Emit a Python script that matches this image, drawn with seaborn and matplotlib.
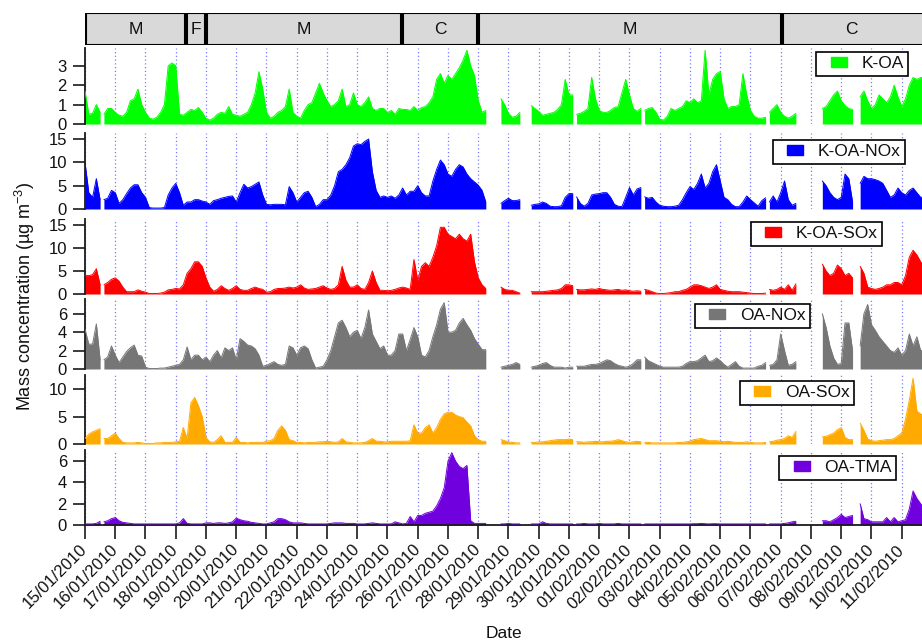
import numpy as np
import pandas as pd
import matplotlib
matplotlib.use("Agg")
import matplotlib.pyplot as plt
import seaborn as sns
from matplotlib.lines import Line2D
from matplotlib.patches import Rectangle
import matplotlib.dates as mdates

# ---------------- data ----------------
start_date = pd.Timestamp("2010-01-15")
# start (days after 15/01/2010 00:00) of each continuous measurement segment
seg_start_days = [0.0, 0.625, 13.75, 14.75, 16.25, 18.5, 22.625, 24.375, 25.625]
step_days = 0.125  # 3-hourly values

series_names = ["K-OA", "K-OA-NOx", "K-OA-SOx", "OA-NOx", "OA-SOx", "OA-TMA"]

k_oa = [
    [1.7, 0.5, 0.55, 1.0, 0.6],
    [0.5, 0.8, 0.8,
     0.6, 0.45, 0.4, 0.6, 1.2, 1.3, 1.8, 1.0,
     0.6, 0.3, 0.25, 0.35, 0.6, 1.0, 3.0, 3.15,
     3.0, 0.5, 0.45, 0.6, 0.75, 0.7, 0.85, 0.6,
     0.3, 0.2, 0.3, 0.5, 0.6, 0.55, 0.9, 0.5,
     0.45, 0.4, 0.5, 0.6, 1.0, 1.6, 2.7, 1.8,
     0.6, 0.3, 0.4, 0.6, 0.7, 0.9, 1.8, 0.6,
     0.4, 0.3, 0.7, 1.0, 1.1, 1.6, 2.1, 1.6,
     1.2, 0.9, 1.0, 1.2, 1.8, 0.9, 1.0, 1.6,
     1.0, 0.9, 1.1, 1.4, 0.8, 0.7, 0.8, 0.8,
     0.6, 0.7, 0.5, 0.8, 0.75, 0.75, 0.7, 0.9,
     0.7, 0.85, 0.9, 1.1, 1.4, 2.3, 2.6, 2.1,
     2.5, 2.3, 2.6, 2.9, 3.3, 3.8, 3.0, 2.5,
     1.2, 0.6, 0.7],
    [1.3, 1.0, 0.55, 0.35, 0.4, 0.6],
    [0.95, 0.8, 0.65, 0.45, 0.5, 0.55, 0.6, 0.75, 1.0, 2.3, 1.5, 1.5],
    [0.5, 0.55, 0.65, 0.8, 2.4, 1.3, 0.7, 0.6, 0.6, 0.7, 0.85, 0.9, 1.6, 2.3, 1.5, 0.8, 0.65, 0.8],
    [0.7, 0.8, 0.85, 0.6, 0.25, 0.2, 0.4, 0.8, 0.7, 0.8, 0.9, 1.2, 1.1, 1.3, 1.1, 1.2, 3.8,
     1.5, 2.3, 2.6, 2.7, 1.3, 0.8, 0.9, 0.9, 1.0, 2.6, 1.5, 0.7, 0.4, 0.3, 0.3, 0.35],
    [0.6, 0.8, 1.0, 0.6, 0.4, 0.3, 0.4, 0.55],
    [0.8, 0.9, 1.2, 1.5, 1.7, 1.2, 0.95, 0.8, 0.75],
    [1.4, 1.7, 1.2, 0.8, 1.0, 1.5, 1.3, 1.1, 1.4, 2.0, 1.4, 0.9, 1.3, 2.0, 2.4, 2.3, 2.4, 2.4],
]

k_oa_nox = [
    [10.0, 3.5, 2.5, 6.5, 2.0],
    [2.0, 2.3, 4.0,
     3.5, 1.2, 2.0, 3.3, 4.5, 5.2, 5.2, 3.5,
     2.5, 0.3, 0.2, 0.2, 0.2, 0.3, 3.0, 4.5,
     5.5, 3.5, 0.8, 1.5, 1.5, 2.0, 2.0, 1.7,
     1.5, 1.0, 1.8, 2.0, 2.3, 2.5, 2.7, 2.8,
     1.5, 3.5, 5.3, 4.5, 4.8, 5.3, 5.8, 3.0,
     1.0, 0.9, 1.0, 1.0, 1.0, 0.9, 4.8, 3.5,
     1.5, 2.5, 3.5, 3.8, 2.5, 0.5, 1.0, 2.0,
     2.0, 3.0, 5.0, 8.0, 8.5, 9.5, 11.0, 13.5,
     14.0, 13.8, 14.5, 15.0, 8.0, 4.0, 2.5, 2.8,
     2.5, 2.8, 2.3, 3.0, 4.5, 3.0, 3.8, 3.8,
     5.0, 3.5, 2.8, 2.8, 6.0, 8.5, 10.5, 9.5,
     7.5, 7.0, 8.5, 9.5, 9.0, 7.5, 6.5, 5.8,
     5.1, 4.0, 1.5],
    [1.2, 1.8, 2.3, 1.8, 1.8, 2.0],
    [0.8, 1.0, 1.1, 1.5, 1.2, 0.6, 0.5, 0.5, 0.7, 2.5, 3.3, 3.3],
    [2.6, 1.2, 0.6, 1.2, 3.0, 3.2, 3.3, 3.5, 3.5, 2.5, 1.0, 0.6, 0.5, 2.5, 4.6, 3.0, 4.3, 4.6],
    [2.6, 2.3, 2.5, 1.5, 0.8, 0.6, 0.5, 0.5, 0.6, 0.8, 2.0, 3.5, 4.8, 4.2, 5.5, 7.5, 4.5,
     5.5, 8.0, 9.5, 6.0, 2.5, 2.0, 1.0, 0.5, 0.5, 1.5, 2.8, 2.0, 1.3, 0.6, 1.8, 2.4],
    [1.5, 2.8, 1.5, 3.5, 6.0, 2.0, 0.8, 1.2],
    [6.0, 5.0, 3.5, 2.5, 2.0, 2.5, 7.5, 6.5, 1.5],
    [5.5, 7.0, 6.5, 6.5, 6.3, 6.0, 5.5, 4.0, 2.5, 3.0, 4.5, 3.5, 3.0, 4.0, 4.5, 3.5, 2.5, 2.5],
]

k_oa_sox = [
    [4.0, 4.0, 4.2, 5.5, 2.0],
    [2.0, 2.5, 3.2,
     3.5, 2.8, 1.5, 0.5, 0.5, 0.5, 0.9, 0.6,
     0.4, 0.1, 0.1, 0.1, 0.2, 0.4, 0.9, 1.0,
     1.2, 1.1, 2.0, 4.5, 5.5, 7.0, 7.0, 6.0,
     3.5, 1.5, 0.6, 1.0, 1.8, 1.2, 0.8, 1.2,
     1.8, 1.0, 0.8, 0.8, 1.2, 1.5, 1.2, 1.0,
     0.4, 0.5, 1.0, 1.2, 1.2, 1.3, 1.5, 1.3,
     1.5, 2.0, 1.3, 1.0, 1.1, 1.2, 1.5, 1.8,
     1.3, 1.0, 1.2, 2.0, 6.0, 3.0, 1.5, 1.5,
     2.0, 1.2, 1.0, 2.5, 5.0, 2.5, 0.8, 0.8,
     0.7, 0.8, 1.0, 1.3, 1.5, 1.3, 1.0, 7.5,
     3.0, 6.0, 6.8, 6.0, 8.0, 10.5, 14.5, 14.5,
     13.0, 12.5, 12.0, 13.0, 12.0, 11.5, 13.0, 7.0,
     3.5, 2.0, 1.2],
    [1.5, 1.0, 0.8, 0.8, 0.5, 0.2],
    [0.5, 0.5, 0.5, 0.5, 0.6, 0.7, 0.8, 0.9, 1.2, 2.0, 2.0, 1.8],
    [1.0, 0.9, 0.9, 1.0, 1.1, 1.0, 1.2, 1.0, 0.9, 0.8, 0.9, 1.0, 0.8, 0.9, 0.7, 0.6, 0.7, 0.6],
    [1.0, 0.8, 0.5, 0.2, 0.1, 0.1, 0.2, 0.3, 0.5, 0.5, 0.8, 1.0, 1.5, 2.0, 2.0, 1.8, 1.5,
     1.2, 1.5, 2.0, 1.0, 0.8, 0.6, 0.5, 0.5, 0.5, 0.4, 0.3, 0.2, 0.1, 0.1, 0.1, 0.2],
    [1.0, 0.8, 1.0, 1.5, 1.0, 2.0, 0.8, 2.2],
    [6.5, 5.0, 4.0, 4.5, 6.3, 5.5, 4.0, 4.5, 3.5],
    [6.0, 4.5, 1.5, 1.2, 1.0, 1.2, 1.5, 2.0, 2.0, 2.5, 2.5, 2.0, 4.0, 8.0, 9.5, 8.5, 7.0, 6.0],
]

oa_nox = [
    [4.3, 2.7, 2.7, 4.9, 1.0],
    [1.0, 1.3, 2.5,
     1.5, 0.7, 1.3, 1.9, 2.3, 2.6, 1.5, 1.4,
     0.2, 0.05, 0.05, 0.05, 0.1, 0.1, 0.2, 0.3,
     0.4, 0.5, 1.0, 2.4, 1.0, 1.5, 1.5, 1.0,
     1.3, 0.8, 1.5, 2.0, 1.2, 2.3, 2.0, 2.3,
     1.0, 3.3, 3.0, 2.6, 2.5, 2.2, 1.5, 0.3,
     0.4, 0.6, 0.8, 0.5, 0.4, 0.5, 2.5, 2.3,
     1.5, 2.3, 2.5, 2.2, 1.0, 0.1, 0.2, 0.3,
     1.0, 2.0, 3.5, 5.0, 5.3, 4.5, 3.5, 4.0,
     4.2, 3.3, 4.5, 6.4, 3.8, 3.0, 2.2, 2.5,
     1.5, 1.5, 2.0, 3.8, 3.8, 2.0, 3.2, 4.5,
     3.5, 1.5, 1.3, 2.0, 3.5, 4.8, 6.5, 7.2,
     4.0, 4.0, 4.2, 5.0, 5.5, 4.8, 4.2, 3.3,
     2.7, 2.1, 2.1],
    [0.2, 0.3, 0.4, 0.5, 0.7, 0.5],
    [0.2, 0.3, 0.4, 0.6, 0.7, 0.4, 0.2, 0.2, 0.2, 0.1, 0.2, 0.2],
    [0.3, 0.3, 0.3, 0.4, 0.5, 0.5, 0.6, 0.8, 1.0, 0.9, 0.6, 0.4, 0.3, 0.2, 0.3, 0.6, 1.0, 1.0],
    [1.3, 0.9, 0.7, 0.5, 0.3, 0.2, 0.2, 0.2, 0.2, 0.2, 0.3, 0.6, 0.8, 0.8, 0.9, 1.2, 1.5,
     0.8, 0.9, 1.2, 0.9, 0.5, 0.2, 0.5, 0.8, 0.3, 0.1, 0.1, 0.1, 0.1, 0.3, 0.4, 0.7],
    [0.4, 0.5, 1.0, 3.8, 2.0, 0.4, 0.5, 0.8],
    [6.0, 4.5, 2.5, 1.2, 0.5, 0.6, 5.0, 5.0, 2.0],
    [2.5, 6.0, 7.0, 4.8, 4.2, 3.5, 3.0, 2.5, 2.0, 1.8, 2.3, 1.5, 2.0, 3.8, 2.5, 3.5, 2.0, 2.0],
]

oa_sox = [
    [1.0, 1.8, 2.2, 2.5, 2.8],
    [1.0, 1.0, 1.5,
     2.0, 1.0, 0.3, 0.2, 0.2, 0.2, 0.3, 0.2,
     0.1, 0.1, 0.1, 0.2, 0.2, 0.3, 0.3, 0.3,
     0.4, 0.5, 3.0, 1.0, 7.5, 8.5, 7.0, 5.0,
     1.2, 0.4, 0.3, 0.8, 1.5, 0.3, 0.3, 0.3,
     1.2, 0.3, 0.3, 0.2, 0.3, 0.3, 0.3, 0.3,
     0.5, 0.6, 1.0, 2.5, 3.3, 2.5, 0.8, 0.6,
     0.3, 0.3, 0.2, 0.3, 0.3, 0.3, 0.4, 0.4,
     0.5, 0.4, 0.3, 0.4, 1.0, 0.4, 0.3, 0.2,
     0.2, 0.2, 0.3, 0.6, 1.0, 0.5, 0.5, 0.4,
     0.4, 0.5, 0.5, 0.5, 0.5, 0.5, 0.6, 3.5,
     2.0, 2.0, 3.0, 3.5, 2.0, 3.0, 4.5, 5.5,
     5.8, 5.8, 5.3, 5.0, 4.8, 4.0, 3.3, 1.5,
     0.8, 0.5, 0.5],
    [0.8, 0.6, 0.4, 0.3, 0.2, 0.2],
    [0.3, 0.3, 0.4, 0.4, 0.5, 0.6, 0.7, 0.8, 0.8, 0.8, 0.9, 0.8],
    [0.4, 0.4, 0.3, 0.4, 0.4, 0.5, 0.4, 0.4, 0.5, 0.5, 0.6, 0.8, 0.6, 0.4, 0.3, 0.4, 0.5, 0.4],
    [0.3, 0.3, 0.2, 0.2, 0.2, 0.2, 0.2, 0.2, 0.2, 0.3, 0.3, 0.4, 0.5, 0.8, 0.9, 1.0, 0.8,
     0.6, 0.6, 0.6, 0.5, 0.4, 0.5, 0.4, 0.3, 0.3, 0.3, 0.4, 0.3, 0.2, 0.2, 0.2, 0.3],
    [0.4, 0.5, 0.7, 0.8, 1.0, 1.5, 1.2, 2.3],
    [1.3, 1.4, 1.7, 2.0, 2.6, 3.0, 1.2, 0.8, 0.8],
    [3.8, 2.5, 0.9, 0.6, 0.5, 0.6, 0.7, 0.8, 0.8, 1.0, 1.5, 2.0, 4.5, 8.0, 12.0, 6.0, 5.5, 5.0],
]

oa_tma = [
    [0.1, 0.1, 0.1, 0.15, 0.35],
    [0.3, 0.4, 0.6,
     0.7, 0.4, 0.25, 0.2, 0.15, 0.1, 0.1, 0.1,
     0.1, 0.1, 0.1, 0.1, 0.1, 0.1, 0.1, 0.1,
     0.1, 0.2, 0.6, 0.15, 0.1, 0.1, 0.1, 0.1,
     0.2, 0.2, 0.15, 0.2, 0.2, 0.15, 0.2, 0.3,
     0.65, 0.5, 0.4, 0.35, 0.25, 0.2, 0.15, 0.1,
     0.1, 0.2, 0.3, 0.6, 0.6, 0.5, 0.3, 0.2,
     0.2, 0.2, 0.15, 0.1, 0.1, 0.1, 0.1, 0.1,
     0.1, 0.15, 0.2, 0.2, 0.2, 0.15, 0.15, 0.15,
     0.1, 0.1, 0.1, 0.15, 0.2, 0.15, 0.1, 0.1,
     0.1, 0.1, 0.3, 0.2, 0.1, 0.15, 0.8, 0.3,
     0.9, 0.9, 1.1, 1.2, 1.3, 1.8, 2.5, 3.5,
     6.0, 6.8, 6.0, 5.5, 5.3, 5.6, 0.4, 0.15,
     0.15, 0.15, 0.15],
    [0.1, 0.1, 0.15, 0.1, 0.1, 0.1],
    [0.1, 0.1, 0.1, 0.3, 0.15, 0.1, 0.1, 0.1, 0.1, 0.1, 0.1, 0.1],
    [0.1, 0.1, 0.15, 0.1, 0.1, 0.1, 0.15, 0.1, 0.1, 0.1, 0.1, 0.15, 0.1, 0.1, 0.1, 0.1, 0.1, 0.1],
    [0.1, 0.1, 0.1, 0.1, 0.1, 0.1, 0.1, 0.1, 0.1, 0.1, 0.1, 0.1, 0.1, 0.12, 0.12, 0.15, 0.12,
     0.1, 0.12, 0.12, 0.1, 0.1, 0.1, 0.1, 0.1, 0.1, 0.1, 0.1, 0.1, 0.1, 0.1, 0.1, 0.1],
    [0.1, 0.1, 0.1, 0.1, 0.15, 0.2, 0.3, 0.35],
    [0.4, 0.4, 0.3, 0.5, 0.7, 1.0, 0.7, 0.8, 0.9],
    [2.0, 0.6, 0.5, 0.3, 0.3, 0.3, 0.3, 0.7, 0.3, 0.7, 0.3, 0.4, 0.5, 1.5, 3.2, 2.5, 2.0, 1.5],
]

all_series = [k_oa, k_oa_nox, k_oa_sox, oa_nox, oa_sox, oa_tma]
series_colors = ["#00ff00", "#0000ff", "#ff0000", "#767676", "#ffaa00", "#7000dd"]
y_limits = [3.92, 16.3, 16.3, 7.6, 12.6, 7.05]
y_ticks = [[0, 1, 2, 3], [0, 5, 10, 15], [0, 5, 10, 15], [0, 2, 4, 6], [0, 5, 10], [0, 2, 4, 6]]

period_labels = ["M", "F", "M", "C", "M", "C"]
period_bounds_days = [0.0, 3.35, 4.0, 10.47, 13.0, 23.03, 28.6]

n_days_shown = 27.67
tick_dates = pd.date_range(start_date, periods=28, freq="D")
tick_labels = [d.strftime("%d/%m/%Y") for d in tick_dates]

# ---------------- layout (pixels) ----------------
W, H = 922, 642
panel_px = [(48, 124), (133, 209), (219, 294), (299, 369), (375, 444), (450, 525)]
legend_corner_px = [(908, 52), (905, 140), (882, 222), (810, 304), (854, 381), (896, 456)]
x_left_px, x_right_px = 85, 922

sns.set_theme(style="ticks")
plt.rcParams["font.family"] = ["Liberation Sans", "DejaVu Sans"]
plt.rcParams["mathtext.default"] = "regular"

fig = plt.figure(figsize=(W / 100, H / 100), dpi=100)
fig.patch.set_facecolor("white")

x0 = mdates.date2num(start_date)
x1 = x0 + n_days_shown


def to_frame(segments):
    parts = []
    for i, (s0, vals) in enumerate(zip(seg_start_days, segments)):
        t = s0 + step_days * np.arange(len(vals))
        parts.append(pd.DataFrame({
            "time": start_date + pd.to_timedelta(t, unit="D"),
            "value": vals,
            "segment": i,
        }))
    return pd.concat(parts, ignore_index=True)


rect_marker = [(-1.6, -1.0), (1.6, -1.0), (1.6, 1.0), (-1.6, 1.0), (-1.6, -1.0)]
text_color = "#111111"
axis_color = "#1a1a1a"

axes = []
for idx, (name, segs, col, ymax, yt, (ptop, pbot), (lx, ly)) in enumerate(
        zip(series_names, all_series, series_colors, y_limits, y_ticks, panel_px, legend_corner_px)):
    ax = fig.add_axes([x_left_px / W, 1 - pbot / H, (x_right_px - x_left_px) / W, (pbot - ptop) / H])
    ax.set_facecolor("none")
    df = to_frame(segs)
    for _, g in df.groupby("segment"):
        ax.fill_between(g["time"], 0, g["value"], color=col, linewidth=0, zorder=2)
    sns.lineplot(data=df, x="time", y="value", units="segment", estimator=None,
                 color=col, linewidth=0.7, ax=ax, legend=False, zorder=3)
    ax.set_xlim(x0, x1)
    ax.set_ylim(0, ymax)
    ax.set_yticks(yt)
    ax.set_xticks(tick_dates)
    ax.set_xlabel("")
    ax.set_ylabel("")
    ax.xaxis.grid(True, linestyle=(0, (1, 2)), color="#7a7aff", linewidth=0.9, zorder=1)
    ax.set_axisbelow(True)
    for s in ["top", "right"]:
        ax.spines[s].set_visible(False)
    ax.spines["left"].set_color(axis_color)
    ax.spines["left"].set_linewidth(1.3)
    ax.tick_params(axis="y", direction="out", length=9, width=1.2, color=axis_color,
                   labelsize=12, pad=4, left=True, labelcolor=text_color)
    if idx < 5:
        ax.spines["bottom"].set_visible(False)
        ax.tick_params(axis="x", bottom=False, labelbottom=False)
    else:
        ax.spines["bottom"].set_color(axis_color)
        ax.spines["bottom"].set_linewidth(1.3)
        ax.set_xticklabels(tick_labels, rotation=45, ha="right", va="center",
                           rotation_mode="anchor")
        ax.tick_params(axis="x", direction="out", length=10, width=1.2, color=axis_color,
                       labelsize=12, pad=6, bottom=True, labelcolor=text_color)
    handle = Line2D([0], [0], marker=rect_marker, linestyle="none", markersize=11.5,
                    markerfacecolor=col, markeredgecolor=col)
    leg = ax.legend([handle], [name], loc="upper right",
                    bbox_to_anchor=(lx / W, 1 - ly / H), bbox_transform=fig.transFigure,
                    frameon=True, fancybox=False, edgecolor="black", framealpha=1,
                    borderpad=0.25, handlelength=2.1, handletextpad=0.25,
                    borderaxespad=0, fontsize=12.5)
    leg.get_frame().set_linewidth(1.2)
    for t in leg.get_texts():
        t.set_color(text_color)
    leg.set_zorder(10)
    axes.append(ax)

# period band
band = fig.add_axes([x_left_px / W, 1 - 45 / H, (x_right_px - x_left_px) / W, 32 / H])
band.set_xlim(x0, x1)
band.set_ylim(0, 1)
band.axis("off")
gap = 0.035
for lab, a, b in zip(period_labels, period_bounds_days[:-1], period_bounds_days[1:]):
    band.add_patch(Rectangle((x0 + a + gap, 0.0), (b - a) - 2 * gap, 1.0,
                             facecolor="#d9d9d9", edgecolor="black", linewidth=1.5,
                             clip_on=True))
    cx = x0 + (a + min(b, n_days_shown)) / 2
    band.text(cx, 0.5, lab, ha="center", va="center", fontsize=12.5, color=text_color)

fig.text(25 / W, 1 - 296 / H, "Mass concentration (µg m$^{-3}$)", rotation=90,
         ha="center", va="center", fontsize=13, color=text_color)
fig.text(504 / W, 1 - 634 / H, "Date", ha="center", va="center", fontsize=12.5, color=text_color)

fig.savefig("out.png", dpi=100, facecolor="white")
